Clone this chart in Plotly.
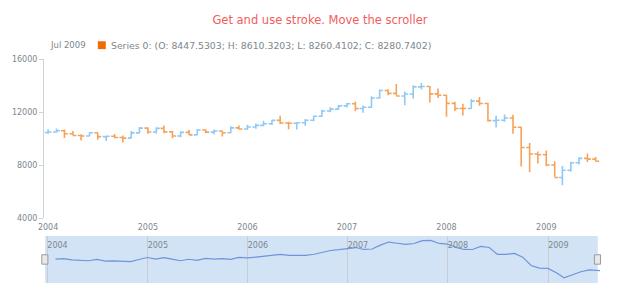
import pandas as pd
import plotly.graph_objects as go

# ---- data (monthly OHLC, Jan 2004 .. Jul 2009) ----
start_month = "2004-01-01"
opens = [10452, 10488, 10584, 10357, 10226, 10188, 10435, 10140, 10174, 10080, 10027, 10428,
         10783, 10490, 10766, 10504, 10193, 10467, 10275, 10641, 10482, 10569, 10440, 10806,
         10718, 10865, 10993, 11109, 11367, 11168, 11150, 11186, 11381, 11679, 12081, 12221,
         12463, 12622, 12268, 12354, 13062, 13628, 13408, 13212, 13358, 13896, 13930, 13372,
         13265, 12650, 12266, 12263, 12820, 12638, 11350, 11378, 11544, 10851, 9325, 8829,
         8776, 8001, 7063, 7609, 8168, 8500, 8447.5303]
highs = [10702, 10753, 10678, 10570, 10317, 10479, 10451, 10189, 10342, 10227, 10572, 10868,
         10854, 10841, 10984, 10571, 10542, 10656, 10720, 10697, 10673, 10582, 10931, 10985,
         11043, 11137, 11334, 11413, 11709, 11257, 11228, 11465, 11727, 12178, 12361, 12529,
         12687, 12795, 12500, 13183, 13693, 13710, 14121, 13548, 14022, 14198, 13967, 13779,
         13279, 12767, 12622, 12983, 13136, 12699, 11721, 11808, 11790, 10882, 9654, 9026,
         9088, 8280, 7925, 8256, 8588, 8877, 8610.3203]
lows = [10368, 10450, 10048, 10221, 9853, 10177, 9913, 9814, 10046, 9708, 10028, 10400,
        10368, 10386, 10403, 10012, 10094, 10275, 10270, 10397, 10319, 10156, 10406, 10666,
        10661, 10730, 10927, 11016, 11094, 10699, 10683, 10964, 11294, 11639, 11974, 12170,
        12336, 12050, 11940, 12330, 12998, 13267, 13265, 12518, 13021, 13696, 12725, 13061,
        11634, 12069, 11731, 12246, 12473, 11288, 10827, 11257, 10365, 7882, 7449, 8118,
        7909, 7114, 6469, 7490, 8035, 8221, 8260.4102]
closes = [10488, 10584, 10357, 10226, 10188, 10435, 10140, 10174, 10080, 10027, 10428, 10783,
          10490, 10766, 10504, 10193, 10467, 10275, 10641, 10482, 10569, 10440, 10806, 10718,
          10865, 10993, 11109, 11367, 11168, 11150, 11186, 11381, 11679, 12081, 12221, 12463,
          12622, 12268, 12354, 13062, 13628, 13408, 13212, 13358, 13896, 13930, 13372, 13265,
          12650, 12266, 12263, 12820, 12638, 11350, 11378, 11544, 10851, 9325, 8829, 8776,
          8001, 7063, 7609, 8168, 8500, 8447, 8280.7402]
year_ticks = ["2004-01-01", "2005-01-01", "2006-01-01", "2007-01-01", "2008-01-01", "2009-01-01"]
year_labels = ["2004", "2005", "2006", "2007", "2008", "2009"]
y_ticks = [4000, 8000, 12000, 16000]
series_name = "Series 0"
title_text = "Get and use stroke. Move the scroller"

dates = pd.date_range(start_month, periods=len(opens), freq="MS")

BLUE = "#8ec9f7"
ORANGE = "#f5a35a"
ORANGE_DARK = "#ef6c00"
GREY = "#7c868e"
FONT = "DejaVu Sans"

fig = go.Figure()

fig.add_trace(go.Ohlc(
    x=dates, open=opens, high=highs, low=lows, close=closes,
    increasing=dict(line=dict(color=BLUE, width=1.6)),
    decreasing=dict(line=dict(color=ORANGE, width=1.6)),
    tickwidth=0.45, xaxis="x", yaxis="y", showlegend=False, hoverinfo="skip",
))

# scroller line: monthly closes at month end
scroll_x = dates + pd.offsets.MonthEnd(0)
fig.add_trace(go.Scatter(
    x=scroll_x, y=closes, mode="lines",
    line=dict(color="#6f95d8", width=1.2),
    xaxis="x2", yaxis="y2", showlegend=False, hoverinfo="skip",
))

fig.update_layout(
    width=620, height=300,
    margin=dict(l=42, r=20, t=59, b=14),
    paper_bgcolor="white", plot_bgcolor="white",
    font=dict(family=FONT, size=8, color=GREY),
    title=dict(text=title_text, x=320 / 620, xanchor="center", y=1 - 20 / 300, yanchor="middle",
               yref="container", font=dict(family=FONT, size=11.5, color="#f25c5c")),
    xaxis=dict(domain=[0, 1], anchor="y", type="date",
               range=["2003-12-17", "2009-07-17"],
               rangeslider=dict(visible=False),
               showgrid=False, showline=False, zeroline=False, ticks="",
               tickvals=year_ticks, ticktext=year_labels, ticklabelstandoff=3,
               tickfont=dict(size=8, color=GREY)),
    yaxis=dict(domain=[0.29, 1], anchor="x", range=[4000, 16000],
               showgrid=False, zeroline=False, showline=True, linecolor="#cfd3d6", linewidth=1,
               ticks="outside", ticklen=4, tickcolor="#cfd3d6",
               tickvals=y_ticks, tickformat="d",
               tickfont=dict(size=8, color=GREY)),
    xaxis2=dict(domain=[0, 1], anchor="y2", type="date",
                range=["2003-12-20", "2009-07-09"],
                side="top", ticklabelposition="inside right",
                showgrid=True, gridcolor="#c9cdd1", gridwidth=1,
                showline=False, zeroline=False, ticks="",
                tickvals=year_ticks, ticktext=year_labels,
                tickfont=dict(size=8, color=GREY)),
    yaxis2=dict(domain=[0, 0.21], anchor="x2", range=[6100, 14750],
                visible=False, showgrid=False, zeroline=False),
    shapes=[
        dict(type="rect", xref="x2 domain", yref="y2 domain", x0=0.002, x1=0.996, y0=0, y1=1,
             fillcolor="#d2e3f6", line=dict(width=0), layer="below"),
        dict(type="rect", xref="x2 domain", yref="y2 domain", x0=-0.004, x1=0.007, y0=0.4, y1=0.6,
             fillcolor="#e8e8e8", line=dict(color="#9a9a9a", width=1), layer="above"),
        dict(type="rect", xref="x2 domain", yref="y2 domain", x0=0.990, x1=1.001, y0=0.4, y1=0.6,
             fillcolor="#e8e8e8", line=dict(color="#9a9a9a", width=1), layer="above"),
        dict(type="rect", xref="paper", yref="paper",
             x0=(96 - 42) / 558, x1=(104 - 42) / 558,
             y0=(286 - 49) / 227, y1=(286 - 41) / 227,
             fillcolor=ORANGE_DARK, line=dict(width=0)),
    ],
)

last = dates[-1]
legend_date = last.strftime("%b %Y")
legend_text = "%s: (O: %.4f; H: %.4f; L: %.4f; C: %.4f)" % (
    series_name, opens[-1], highs[-1], lows[-1], closes[-1])

fig.add_annotation(text=legend_date, xref="paper", yref="paper",
                   x=(46 - 42) / 558, y=(286 - 45) / 227, xanchor="left", yanchor="middle",
                   showarrow=False, font=dict(family=FONT, size=8.5, color=GREY))
fig.add_annotation(text=legend_text, xref="paper", yref="paper",
                   x=(107 - 42) / 558, y=(286 - 45) / 227, xanchor="left", yanchor="middle",
                   showarrow=False, font=dict(family=FONT, size=9.3, color=GREY))

fig.write_html("out.html")
